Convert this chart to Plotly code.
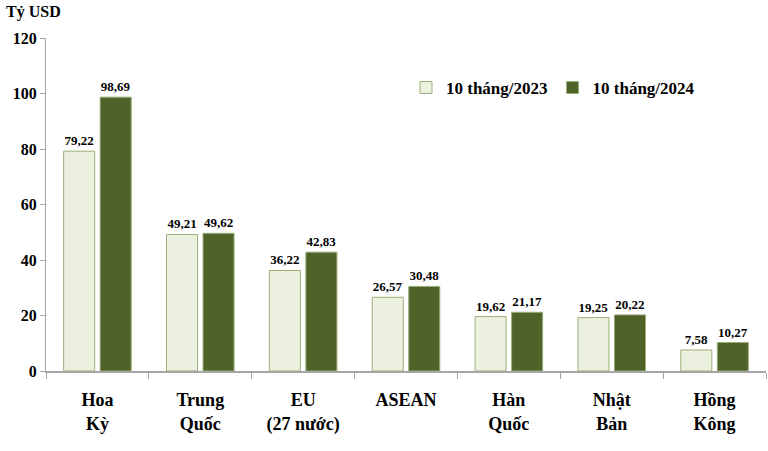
import plotly.graph_objects as go

categories = ["Hoa<br>Kỳ", "Trung<br>Quốc", "EU<br>(27 nước)", "ASEAN", "Hàn<br>Quốc", "Nhật<br>Bản", "Hồng<br>Kông"]
v2023 = [79.22, 49.21, 36.22, 26.57, 19.62, 19.25, 7.58]
v2024 = [98.69, 49.62, 42.83, 30.48, 21.17, 20.22, 10.27]
names = ["10 tháng/2023", "10 tháng/2024"]
yticks = [0, 20, 40, 60, 80, 100, 120]

def fmt(v):
    return f"{v:.2f}".replace(".", ",")

FONT = "Times New Roman"

fig = go.Figure()
fig.add_trace(go.Bar(
    x=categories, y=v2023, name=names[0],
    marker=dict(color="#EBF1DE", line=dict(color="#9BAF7A", width=1)),
    text=[fmt(v) for v in v2023], textposition="outside", cliponaxis=False,
    textfont=dict(family=FONT, size=13, color="black", weight="bold"),
))
fig.add_trace(go.Bar(
    x=categories, y=v2024, name=names[1],
    marker=dict(color="#4F6228", line=dict(color="#9BAF7A", width=1)),
    text=[fmt(v) for v in v2024], textposition="outside", cliponaxis=False,
    textfont=dict(family=FONT, size=13, color="black", weight="bold"),
))

fig.update_layout(
    width=768, height=451,
    margin=dict(l=46, r=2, t=38, b=80),
    paper_bgcolor="white", plot_bgcolor="white",
    barmode="group", bargap=0.29, bargroupgap=0.15,
    font=dict(family=FONT, color="black"),
    showlegend=True,
    legend=dict(orientation="h", x=0.50, y=0.85, xanchor="left", yanchor="middle",
                font=dict(family=FONT, size=17, color="black", weight="bold"),
                bgcolor="rgba(0,0,0,0)", itemwidth=30, traceorder="normal"),
)
fig.update_yaxes(
    range=[0, 120], tickvals=yticks, ticktext=[str(t) for t in yticks],
    showgrid=False, zeroline=False, showline=True, linecolor="#A6A6A6", linewidth=1,
    ticks="outside", ticklen=5, tickcolor="#A6A6A6",
    tickfont=dict(family=FONT, size=16, color="black", weight="bold"),
)
fig.update_xaxes(
    showgrid=False, showline=True, linecolor="#A6A6A6", linewidth=1.5,
    ticks="outside", tickson="boundaries", ticklen=6, tickcolor="#A6A6A6",
    tickfont=dict(family=FONT, size=18, color="black", weight="bold"),
    ticklabelstandoff=12,
)
fig.add_annotation(
    text="Tỷ USD", xref="paper", yref="paper", x=-42/720, y=1 + 26/333,
    xanchor="left", yanchor="middle", showarrow=False,
    font=dict(family=FONT, size=16, color="black", weight="bold"),
)

fig.write_html("out.html")
